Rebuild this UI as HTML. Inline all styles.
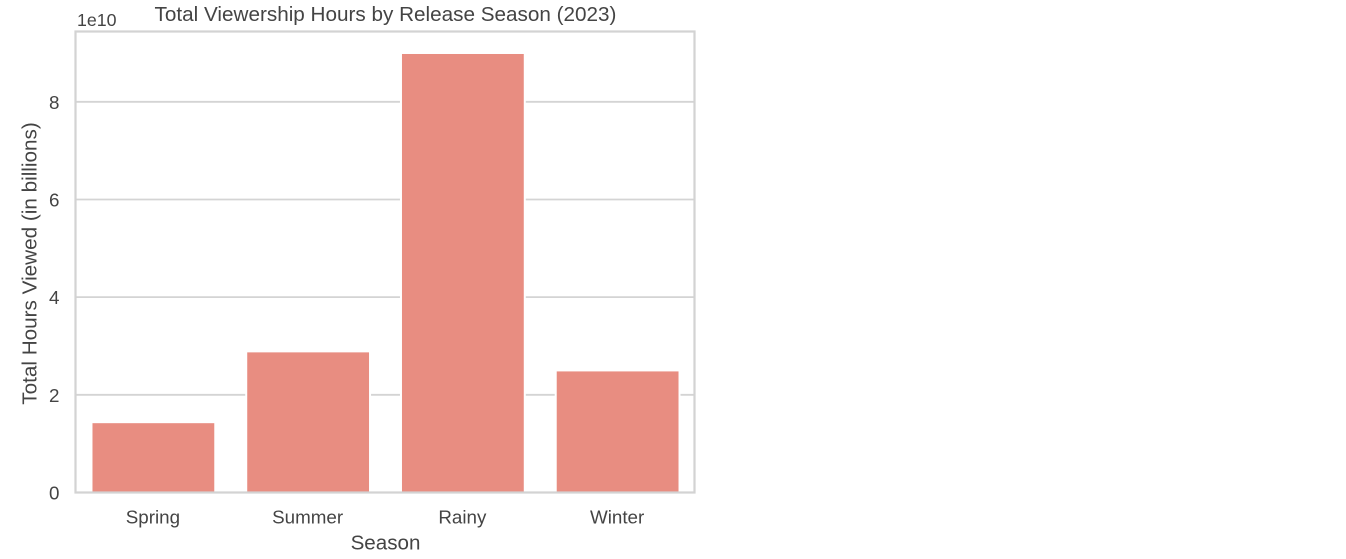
<!DOCTYPE html>
<html lang="en">
<head>
<meta charset="utf-8">
<title>Total Viewership Hours by Release Season (2023)</title>
<style>
html,body{margin:0;padding:0;background:#fff;width:1346px;height:559px;overflow:hidden}
svg{display:block;filter:blur(0.35px)}
text{font-family:"Liberation Sans",Arial,sans-serif;fill:#444}
</style>
</head>
<body>
<svg id="chart" width="1346" height="559" viewBox="0 0 1346 559" xmlns="http://www.w3.org/2000/svg">
<g id="grid"></g>
<g id="bars"></g>
<g id="spines"></g>
<g id="yticks"></g>
<g id="xticks"></g>
<text x="385.5" y="21" font-size="20.7" text-anchor="middle">Total Viewership Hours by Release Season (2023)</text>
<text x="77" y="26" font-size="17.8">1e10</text>
<text x="385.5" y="549.5" font-size="20.6" text-anchor="middle">Season</text>
<text transform="translate(36.5 263.5) rotate(-90)" font-size="20.7" text-anchor="middle">Total Hours Viewed (in billions)</text>
</svg>
<script>
const categories = ['Spring', 'Summer', 'Rainy', 'Winter'];
const hoursViewed = [1.44e10, 2.89e10, 9.0e10, 2.5e10];
const yTickValues = [0, 2e10, 4e10, 6e10, 8e10];
const yTickLabels = ['0', '2', '4', '6', '8'];

const SVG_NS = 'http://www.w3.org/2000/svg';
const plot = { left: 76, right: 695, top: 31.5, bottom: 492.5 };
const yMax = 9.44e10;

function xCenter(i) {
  const step = (plot.right - plot.left) / categories.length;
  return plot.left + step * (i + 0.5);
}
function xBand() {
  return (plot.right - plot.left) / categories.length * 0.8;
}
function yScale(v) {
  return plot.bottom - (v / yMax) * (plot.bottom - plot.top);
}
function make(tag, attrs, parent) {
  const el = document.createElementNS(SVG_NS, tag);
  for (const k in attrs) el.setAttribute(k, attrs[k]);
  parent.appendChild(el);
  return el;
}

const gridG = document.getElementById('grid');
const barsG = document.getElementById('bars');
const spinesG = document.getElementById('spines');
const yG = document.getElementById('yticks');
const xG = document.getElementById('xticks');

yTickValues.forEach(function (v, i) {
  const y = yScale(v);
  if (v > 0) {
    const line = make('line', { x1: plot.left, x2: plot.right, y1: y, y2: y, stroke: '#d4d4d4', 'stroke-width': 1.8 }, gridG);
    
    
  }
  const label = make('text', { x: 59.5, y: y + 7, 'font-size': 18.8, 'text-anchor': 'end' }, yG);
  label.textContent = yTickLabels[i];
  
  
});

categories.forEach(function (c, i) {
  const w = xBand();
  const top = yScale(hoursViewed[i]);
  const bar = make('rect', {
    x: xCenter(i) - w / 2,
    y: top,
    width: w,
    height: plot.bottom - top,
    fill: '#e88d81',
    stroke: '#fff',
    'stroke-width': 2
  }, barsG);
  
  

  const label = make('text', { x: xCenter(i) - 0.5, y: 523.5, 'font-size': 18.8, 'text-anchor': 'middle' }, xG);
  label.textContent = c;
  
  
});

const frame = make('rect', {
  x: plot.left - 0.5,
  y: plot.top,
  width: plot.right - plot.left,
  height: plot.bottom - plot.top,
  fill: 'none',
  stroke: '#d3d3d3',
  'stroke-width': 2.2
}, spinesG);


</script>
</body>
</html>
